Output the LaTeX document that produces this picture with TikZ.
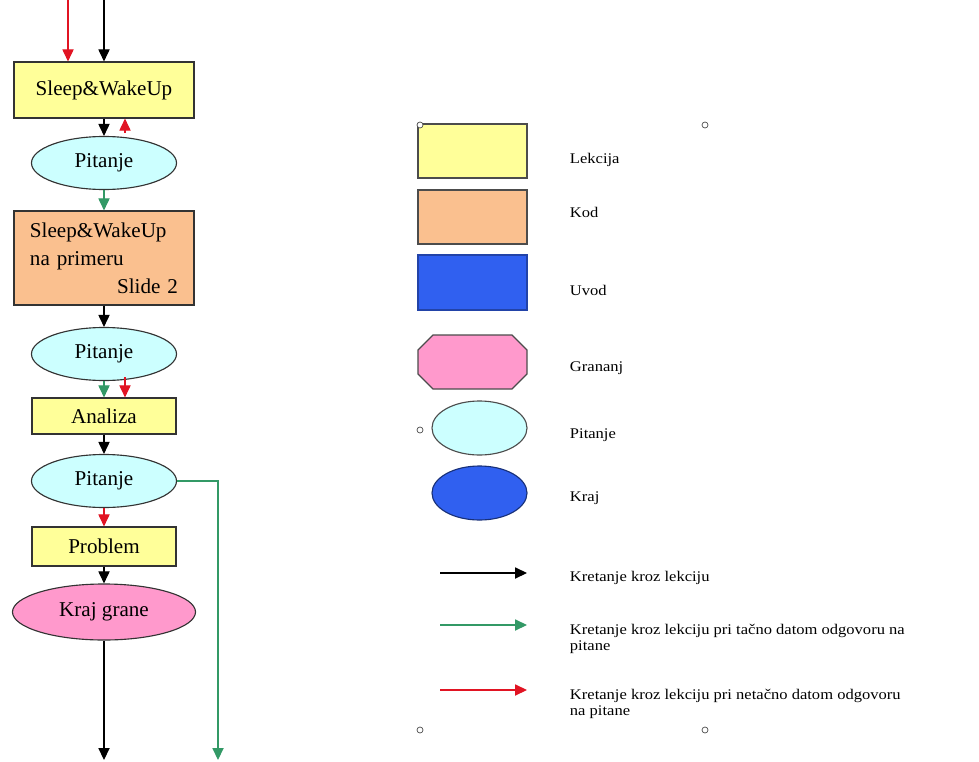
\documentclass[tikz,border=0pt]{standalone}
\usepackage{fontspec}
\setmainfont{Liberation Serif}
\newfontfamily\legfont[FakeStretch=1.12]{Liberation Serif}
\usetikzlibrary{arrows.meta,shapes.geometric}

\definecolor{lekcija}{RGB}{255,255,153}
\definecolor{kod}{RGB}{250,192,143}
\definecolor{uvod}{RGB}{48,96,240}
\definecolor{grana}{RGB}{255,153,204}
\definecolor{pitanje}{RGB}{204,255,255}
\definecolor{tacno}{RGB}{51,153,102}
\definecolor{netacno}{RGB}{225,20,35}

\begin{document}
\begin{tikzpicture}[x=0.025cm,y=-0.025cm,
  box/.style={draw=black!80,line width=0.8pt,inner sep=0pt,font=\fontsize{15}{20}\selectfont},
  lek/.style={box,rectangle,fill=lekcija},
  kodbox/.style={box,rectangle,fill=kod},
  pit/.style={box,ellipse,fill=pitanje,minimum width=3.625cm,minimum height=1.325cm},
  kraj/.style={box,ellipse,fill=grana,minimum width=4.575cm,minimum height=1.4cm},
  legtext/.style={anchor=west,align=left,font=\legfont\fontsize{10.5}{11.5}\selectfont},
  tok/.style={line width=0.8pt,-{Triangle[length=3mm,width=2.8mm]}},
  handle/.style={draw=black!70,fill=white,line width=0.5pt}]
\useasboundingbox (0,0) rectangle (979,762);

% lijeva kolona - tok lekcije
\node[lek,minimum width=4.5cm,minimum height=1.4cm] (sw1) at (104,90) {Sleep\&WakeUp};
\node[pit] (p1) at (104,163) {Pitanje};
\node[kodbox,minimum width=4.5cm,minimum height=2.35cm,text width=3.7cm,align=left] (sw2) at (104,258)
  {Sleep\&WakeUp\\na primeru\\\hfill Slide 2};
\node[pit] (p2) at (104,354) {Pitanje};
\node[lek,minimum width=3.6cm,minimum height=0.9cm] (an) at (104,416) {Analiza};
\node[pit] (p3) at (104,481) {Pitanje};
\node[lek,minimum width=3.6cm,minimum height=0.975cm] (pr) at (104,546.5) {Problem};
\node[kraj] (kg) at (104,612) {Kraj grane};

\coordinate (ulaz1) at (68,0);
\coordinate (ulaz2) at (104,0);
\coordinate (izlaz1) at (104,760);
\coordinate (izlaz2) at (218,760);

\draw[tok,netacno] (ulaz1) -- (ulaz1 |- sw1.north);
\draw[tok] (ulaz2) -- (sw1.north);
\draw[tok] (sw1.south) -- (p1.north);
\draw[tok,netacno] ([xshift=0.525cm]sw1.south |- p1.north) ++(0,-3) -- ([xshift=0.525cm]sw1.south);
\draw[tok,tacno] (p1.south) -- (sw2.north);
\draw[tok] (sw2.south) -- (p2.north);
\draw[tok,tacno] (p2.south) -- (an.north);
\draw[tok,netacno] ([xshift=0.525cm]p2.south) ++(0,-4) -- ([xshift=0.525cm]an.north);
\draw[tok] (an.south) -- (p3.north);
\draw[tok,tacno] (p3.east) -| (izlaz2);
\draw[tok,netacno] (p3.south) -- (pr.north);
\draw[tok] (pr.south) -- (kg.north);
\draw[tok] (kg.south) -- (izlaz1);

% legenda
\node[draw=black!70,line width=0.8pt,fill=lekcija,minimum width=2.725cm,minimum height=1.35cm,inner sep=0pt] (l1) at (472.5,151) {};
\node[draw=black!70,line width=0.8pt,fill=kod,minimum width=2.725cm,minimum height=1.35cm,inner sep=0pt] (l2) at (472.5,217) {};
\node[draw=uvod!70!black,line width=0.8pt,fill=uvod,minimum width=2.725cm,minimum height=1.375cm,inner sep=0pt] (l3) at (472.5,282.5) {};
\draw[draw=black!70,line width=0.8pt,fill=grana] (418,350) -- (433,335) -- (512,335) -- (527,350)
  -- (527,374) -- (512,389) -- (433,389) -- (418,374) -- cycle;
\node[draw=black!70,line width=0.8pt,fill=pitanje,ellipse,minimum width=2.375cm,minimum height=1.35cm,inner sep=0pt] (l5) at (479.5,428) {};
\node[draw=uvod!50!black,line width=0.8pt,fill=uvod,ellipse,minimum width=2.375cm,minimum height=1.35cm,inner sep=0pt] (l6) at (479.5,493) {};

\node[legtext] (t1) at (565,160) {Lekcija};
\node[legtext] (t2) at (565,212) {Kod};
\node[legtext] (t3) at (565,290) {Uvod};
\node[legtext] (t4) at (565,368) {Grananj};
\node[legtext] (t5) at (565,435) {Pitanje};
\node[legtext] (t6) at (565,498) {Kraj};

\coordinate (a1) at (440,573);
\coordinate (b1) at (527,573);
\coordinate (a2) at (440,625);
\coordinate (b2) at (527,625);
\coordinate (a3) at (440,690);
\coordinate (b3) at (527,690);
\draw[tok] (a1) -- (b1);
\draw[tok,tacno] (a2) -- (b2);
\draw[tok,netacno] (a3) -- (b3);

\node[legtext] (t7) at (565,578) {Kretanje kroz lekciju};
\node[legtext] (t8) at (565,639) {Kretanje kroz lekciju pri tačno datom odgovoru na\\pitane};
\node[legtext] (t9) at (565,704) {Kretanje kroz lekciju pri netačno datom odgovoru\\na pitane};

% ručke oznake
\foreach \hx/\hy in {420/125,705/125,420/430,420/730,705/730}
  \draw[handle] (\hx,\hy) circle (0.075cm);
\end{tikzpicture}
\end{document}
